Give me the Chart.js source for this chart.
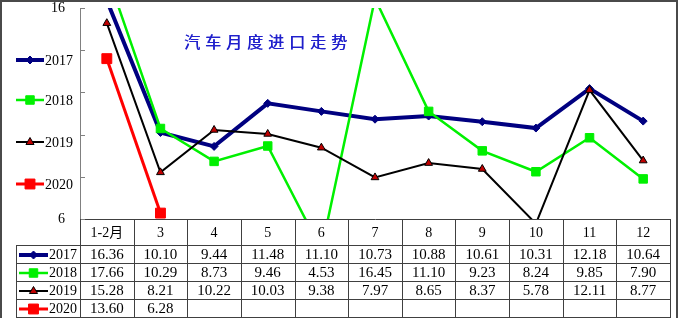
<!DOCTYPE html>
<html><head><meta charset="utf-8">
<script src="https://cdn.jsdelivr.net/npm/chart.js@4/dist/chart.umd.min.js"></script>
<style>html,body{margin:0;padding:0;background:#fff}#wrap{width:678px;height:318px;position:relative}</style>
</head><body><div id="wrap"><canvas id="c" width="678" height="318"></canvas></div>
<script>
const categories = ['1-2月','3','4','5','6','7','8','9','10','11','12'];
const seriesNames = ['2017','2018','2019','2020'];
const values2017 = [16.36,10.10,9.44,11.48,11.10,10.73,10.88,10.61,10.31,12.18,10.64];
const values2018 = [17.66,10.29,8.73,9.46,4.53,16.45,11.10,9.23,8.24,9.85,7.90];
const values2019 = [15.28,8.21,10.22,10.03,9.38,7.97,8.65,8.37,5.78,12.11,8.77];
const values2020 = [13.60,6.28];
const yTickLabels = ['6','16'];
const titleText = '汽车月度进口走势';

const allValues = [values2017, values2018, values2019, values2020];
const styles = [
  {color:'#000080', width:4,   point:'rectRot',  r:4, fill:'#000080', pb:'#000080', pbw:1},
  {color:'#00f000', width:2.5, point:'rect',     r:6, fill:'#00f000', pb:'#00f000', pbw:1},
  {color:'#000000', width:2,   point:'triangle', r:4.5, fill:'#c00000', pb:'#000000', pbw:1},
  {color:'#ff0000', width:3,   point:'rect',     r:7, fill:'#ff0000', pb:'#ff0000', pbw:1}
];

function drawMarker(ctx, st, x, y) {
  ctx.save();
  ctx.fillStyle = st.fill; ctx.strokeStyle = st.pb; ctx.lineWidth = st.pbw;
  ctx.beginPath();
  const r = st.r;
  if (st.point === 'rect') {
    const s = r * Math.SQRT1_2;
    ctx.rect(x - s, y - s, 2 * s, 2 * s);
  } else if (st.point === 'rectRot') {
    ctx.moveTo(x, y - r); ctx.lineTo(x + r, y); ctx.lineTo(x, y + r); ctx.lineTo(x - r, y); ctx.closePath();
  } else {
    ctx.moveTo(x, y - r); ctx.lineTo(x + r * 0.9, y + r * 0.55); ctx.lineTo(x - r * 0.9, y + r * 0.55); ctx.closePath();
  }
  ctx.fill(); ctx.stroke();
  ctx.restore();
}

function legendGlyph(ctx, i, x0, x1, y) {
  const st = styles[i];
  ctx.save();
  ctx.strokeStyle = st.color; ctx.lineWidth = st.width;
  ctx.beginPath(); ctx.moveTo(x0, y); ctx.lineTo(x1, y); ctx.stroke();
  ctx.restore();
  drawMarker(ctx, st, (x0 + x1) / 2, y);
}

const decor = {
  id: 'decor',
  afterDraw(chart) {
    const ctx = chart.ctx;
    const ca = chart.chartArea;
    const xs = chart.scales.x, ys = chart.scales.y;
    ctx.save();
    // inside y ticks
    ctx.strokeStyle = '#808080'; ctx.lineWidth = 1;
    for (let v = 6; v <= 16; v += 2) {
      const py = Math.round(ys.getPixelForValue(v)) + 0.5;
      ctx.beginPath(); ctx.moveTo(ca.left, py); ctx.lineTo(ca.left + 5, py); ctx.stroke();
    }
    // title
    ctx.fillStyle = '#2020cc';
    ctx.font = '16px "Noto Sans CJK SC"';
    ctx.textAlign = 'left'; ctx.textBaseline = 'middle';
    if ('letterSpacing' in ctx) ctx.letterSpacing = '5px';
    ctx.fillText(titleText, 184, 42);
    ctx.fillText(titleText, 184.5, 42);
    if ('letterSpacing' in ctx) ctx.letterSpacing = '0px';
    // left legend
    const legY = [60, 100, 142, 184];
    ctx.font = '14px "Liberation Serif"';
    for (let i = 0; i < 4; i++) {
      legendGlyph(ctx, i, 16, 44, legY[i]);
      ctx.fillStyle = '#000'; ctx.textAlign = 'left';
      ctx.fillText(seriesNames[i], 45, legY[i] + 1);
    }
    // table
    const centers = categories.map((_, i) => xs.getPixelForValue(i));
    const bounds = [ca.left];
    for (let i = 0; i < centers.length - 1; i++) bounds.push((centers[i] + centers[i + 1]) / 2);
    bounds.push(ca.right);
    const top = ca.bottom, hb = top + 26, rh = 18;
    const rowTops = [hb, hb + rh, hb + 2 * rh, hb + 3 * rh, hb + 4 * rh];
    const bottom = 330;
    ctx.strokeStyle = '#404040'; ctx.lineWidth = 1;
    const hl = (x0, x1, y) => { ctx.beginPath(); ctx.moveTo(x0, Math.round(y) + 0.5); ctx.lineTo(x1, Math.round(y) + 0.5); ctx.stroke(); };
    const vl = (x, y0, y1) => { ctx.beginPath(); ctx.moveTo(Math.round(x) + 0.5, y0); ctx.lineTo(Math.round(x) + 0.5, y1); ctx.stroke(); };
    for (let k = 0; k < 5; k++) hl(16, ca.right, rowTops[k]);
    vl(16, hb, bottom);
    bounds.forEach(b => vl(b, top, bottom));
    // header labels
    ctx.fillStyle = '#000'; ctx.textAlign = 'center'; ctx.textBaseline = 'middle';
    ctx.font = '14px "Liberation Serif", "Noto Sans CJK SC"';
    categories.forEach((c, i) => ctx.fillText(c, centers[i], (top + hb) / 2 + 1));
    // rows
    for (let r = 0; r < 4; r++) {
      const cy = rowTops[r] + rh / 2 + 1;
      legendGlyph(ctx, r, 19, 48, cy);
      ctx.fillStyle = '#000'; ctx.textAlign = 'left';
      ctx.font = '14px "Liberation Serif"';
      ctx.fillText(seriesNames[r], 49, cy);
      ctx.textAlign = 'center';
      ctx.font = '15px "Liberation Serif"';
      allValues[r].forEach((v, i) => ctx.fillText(v.toFixed(2), centers[i], cy));
    }
    // frame
    ctx.strokeStyle = '#4a4a4a'; ctx.lineWidth = 2;
    ctx.strokeRect(1, 1, 676, 318);
    ctx.restore();
  }
};

new Chart(document.getElementById('c'), {
  type: 'line',
  data: {
    labels: categories,
    datasets: allValues.map((vals, i) => ({
      label: seriesNames[i],
      data: vals,
      borderColor: styles[i].color,
      borderWidth: styles[i].width,
      pointStyle: styles[i].point,
      pointRadius: styles[i].r,
      pointBackgroundColor: styles[i].fill,
      pointBorderColor: styles[i].pb,
      pointBorderWidth: styles[i].pbw,
      tension: 0,
      clip: 0,
      order: 4 - i
    }))
  },
  options: {
    responsive: false,
    animation: false,
    devicePixelRatio: 1,
    layout: { padding: { top: 6, right: 3, left: 0, bottom: 0 } },
    plugins: { legend: { display: false }, tooltip: { enabled: false }, title: { display: false } },
    scales: {
      x: {
        type: 'category', offset: true,
        grid: { display: false },
        border: { display: true, color: '#404040', width: 1 },
        ticks: { display: false },
        afterFit(s) { s.height = 99; }
      },
      y: {
        min: 6, max: 16,
        ticks: {
          stepSize: 2,
          padding: 15,
          color: '#000',
          font: { family: 'Liberation Serif', size: 14, lineHeight: 1 },
          callback: v => yTickLabels.includes(String(v)) ? String(v) : ''
        },
        grid: { display: true, drawOnChartArea: false, drawTicks: false },
        border: { display: true, color: '#808080', width: 1 },
        afterFit(s) { s.width = 80; s.paddingTop = 5; s.paddingBottom = 5; }
      }
    }
  },
  plugins: [decor]
});
</script></body></html>
